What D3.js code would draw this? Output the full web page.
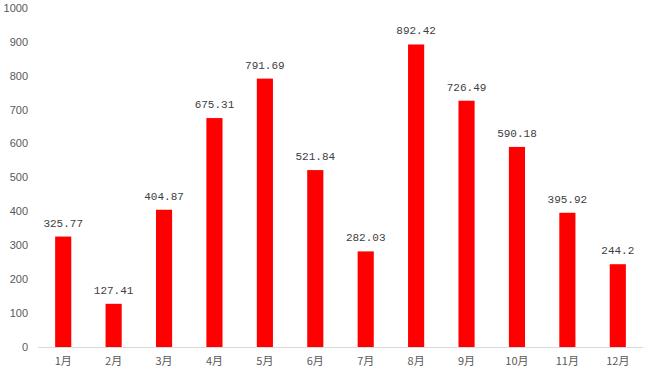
<!DOCTYPE html>
<html>
<head>
<meta charset="utf-8">
<script src="https://cdn.jsdelivr.net/npm/d3@7"></script>
<style>
  body { margin: 0; background: #fff; }
  svg { display: block; }
</style>
</head>
<body>
<svg width="649" height="377"></svg>
<script>
const months = ['1月', '2月', '3月', '4月', '5月', '6月', '7月', '8月', '9月', '10月', '11月', '12月'];
const values = [325.77, 127.41, 404.87, 675.31, 791.69, 521.84, 282.03, 892.42, 726.49, 590.18, 395.92, 244.2];
const yTicks = [0, 100, 200, 300, 400, 500, 600, 700, 800, 900, 1000];

const svg = d3.select('svg');
const margin = { top: 8, right: 6, bottom: 30, left: 38 };
const width = 649 - margin.left - margin.right,
    height = 377 - margin.top - margin.bottom;

const g = svg.append('g')
    .attr('transform', 'translate(' + margin.left + ',' + margin.top + ')');

const x = d3.scaleBand()
    .domain(months)
    .range([0, width])
    .paddingInner(0.68)
    .paddingOuter(0.34);

const y = d3.scaleLinear()
    .domain([0, 1000])
    .range([height, 0]);

// y axis labels only
g.append('g')
    .selectAll('text')
    .data(yTicks)
    .enter()
    .append('text')
    .attr('x', -10)
    .attr('y', d => y(d))
    .attr('dy', '0.35em')
    .attr('text-anchor', 'end')
    .attr('font-family', 'Liberation Sans, Arial, sans-serif')
    .attr('font-size', 11)
    .attr('fill', '#595959')
    .text(d => d);

// bars
g.append('g')
    .selectAll('rect')
    .data(values)
    .enter()
    .append('rect')
    .attr('x', (d, i) => x(months[i]))
    .attr('y', d => y(d))
    .attr('width', x.bandwidth())
    .attr('height', d => height - y(d))
    .attr('fill', '#ff0000');

// x axis line
g.append('line')
    .attr('x1', 0)
    .attr('x2', width)
    .attr('y1', height + 0.5)
    .attr('y2', height + 0.5)
    .attr('stroke', '#d9d9d9');

// x labels
g.append('g')
    .selectAll('text')
    .data(months)
    .enter()
    .append('text')
    .attr('x', d => x(d) + x.bandwidth() / 2)
    .attr('y', height + 18)
    .attr('text-anchor', 'middle')
    .attr('font-family', 'Noto Sans CJK SC, sans-serif')
    .attr('font-size', 11)
    .attr('fill', '#595959')
    .text(d => d);

// value labels
g.append('g')
    .selectAll('text')
    .data(values)
    .enter()
    .append('text')
    .attr('x', (d, i) => x(months[i]) + x.bandwidth() / 2)
    .attr('y', d => y(d) - 10)
    .attr('text-anchor', 'middle')
    .attr('font-family', 'Liberation Mono, monospace')
    .attr('font-size', 11)
    .attr('fill', '#404040')
    .text(d => d);
</script>
</body>
</html>
